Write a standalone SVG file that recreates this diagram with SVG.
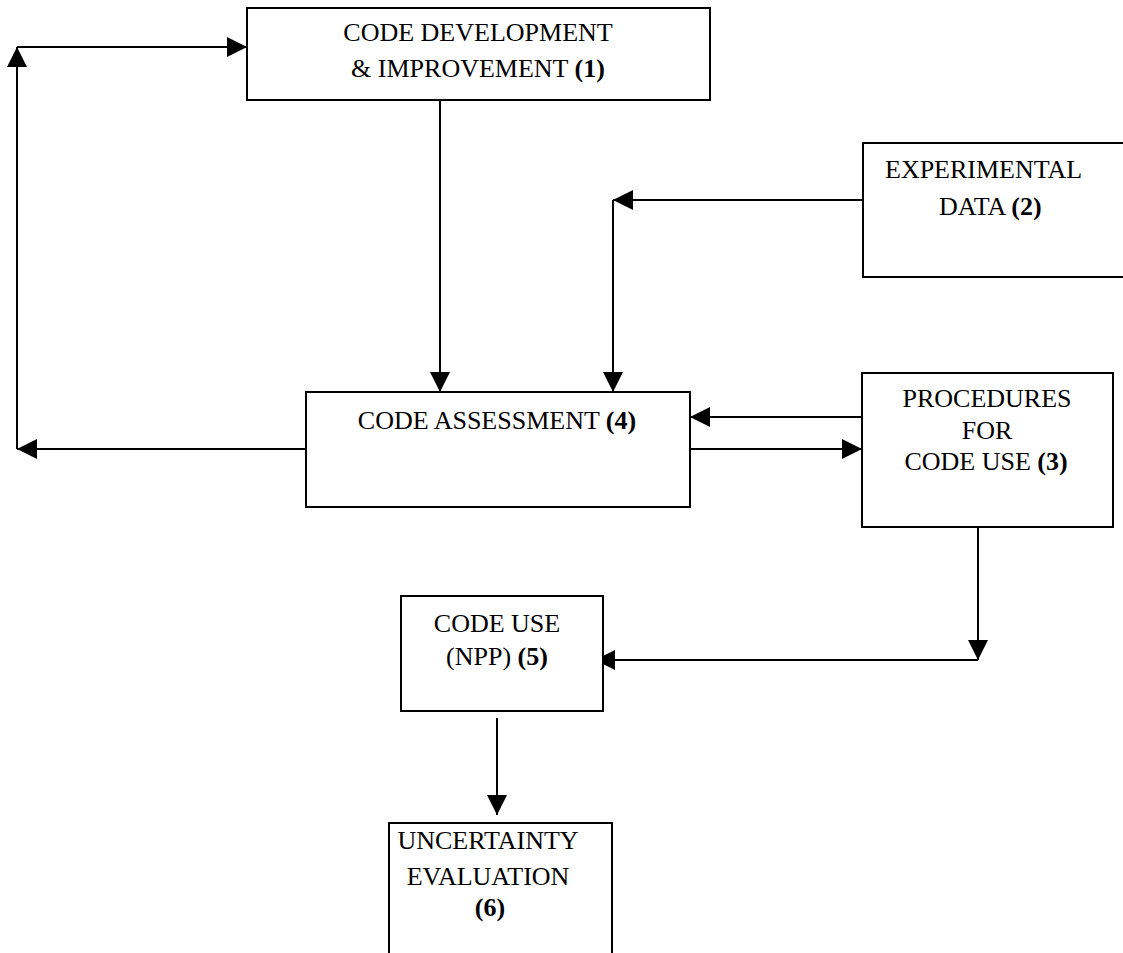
<svg xmlns="http://www.w3.org/2000/svg" width="1123" height="953" viewBox="0 0 1123 953">
  <style>
    .box { fill: #ffffff; stroke: #000000; stroke-width: 2; }
    .lbl { font-family: "Liberation Serif", "Times New Roman", serif; font-size: 26px; fill: #000000; text-anchor: middle; }
    .lbl-s { font-family: "Liberation Serif", "Times New Roman", serif; font-size: 26px; fill: #000000; }
    .b { font-weight: bold; }
    .conn { fill: none; stroke: #000000; stroke-width: 2; }
  </style>
  <defs>
    <marker id="arr" viewBox="0 0 20 20" refX="20" refY="10" markerWidth="20" markerHeight="20" markerUnits="userSpaceOnUse" orient="auto">
      <path d="M0,0 L20,10 L0,20 Z" fill="#000000"/>
    </marker>
  </defs>
  <rect width="1123" height="953" fill="#ffffff"/>

  <g id="connectors">
    <line class="conn" x1="440" y1="101" x2="440" y2="392" marker-end="url(#arr)"/>
    <line class="conn" x1="863" y1="200" x2="613" y2="200" marker-end="url(#arr)"/>
    <line class="conn" x1="613" y1="200" x2="613" y2="392" marker-end="url(#arr)"/>
    <line class="conn" x1="863" y1="417" x2="690" y2="417" marker-end="url(#arr)"/>
    <line class="conn" x1="690" y1="449" x2="862" y2="449" marker-end="url(#arr)"/>
    <line class="conn" x1="306" y1="449" x2="17" y2="449" marker-end="url(#arr)"/>
    <line class="conn" x1="17" y1="449" x2="17" y2="47" marker-end="url(#arr)"/>
    <line class="conn" x1="17" y1="47" x2="247" y2="47" marker-end="url(#arr)"/>
    <line class="conn" x1="978" y1="527" x2="978" y2="660" marker-end="url(#arr)"/>
    <line class="conn" x1="978" y1="660" x2="595" y2="660" marker-end="url(#arr)"/>
    <line class="conn" x1="497" y1="718" x2="497" y2="815" marker-end="url(#arr)"/>
  </g>

  <g id="node1">
    <rect class="box" x="247" y="8" width="463" height="92"/>
    <text class="lbl" x="478" y="41">CODE DEVELOPMENT</text>
    <text class="lbl" x="478" y="77">&amp; IMPROVEMENT <tspan class="b">(1)</tspan></text>
  </g>

  <g id="node2">
    <rect class="box" x="863" y="143" width="280" height="134"/>
    <text class="lbl-s" x="885" y="178">EXPERIMENTAL</text>
    <text class="lbl-s" x="939" y="215">DATA <tspan class="b">(2)</tspan></text>
  </g>

  <g id="node3">
    <rect class="box" x="862" y="373" width="251" height="154"/>
    <text class="lbl" x="987" y="407">PROCEDURES</text>
    <text class="lbl" x="987" y="439">FOR</text>
    <text class="lbl" x="986" y="470">CODE USE <tspan class="b">(3)</tspan></text>
  </g>

  <g id="node4">
    <rect class="box" x="306" y="392" width="384" height="115"/>
    <text class="lbl" x="497" y="429">CODE ASSESSMENT <tspan class="b">(4)</tspan></text>
  </g>

  <g id="node5">
    <rect class="box" x="401" y="596" width="202" height="115"/>
    <text class="lbl" x="497" y="632">CODE USE</text>
    <text class="lbl" x="497" y="665">(NPP) <tspan class="b">(5)</tspan></text>
  </g>

  <g id="node6">
    <rect class="box" x="389" y="823" width="223" height="150"/>
    <text class="lbl" x="488" y="849">UNCERTAINTY</text>
    <text class="lbl" x="488" y="885">EVALUATION</text>
    <text class="lbl" x="490" y="916"><tspan class="b">(6)</tspan></text>
  </g>
</svg>
